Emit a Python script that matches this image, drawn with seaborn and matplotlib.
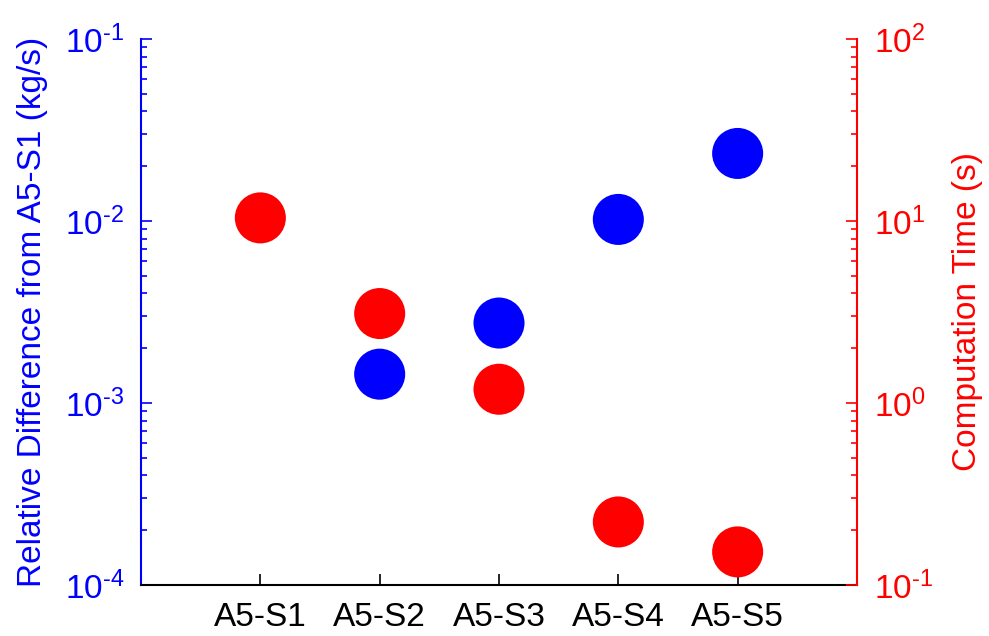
import matplotlib
matplotlib.use('Agg')
import matplotlib.pyplot as plt
import seaborn as sns
import numpy as np
import pandas as pd
from matplotlib.ticker import LogLocator, FuncFormatter

cases = ['A5-S1', 'A5-S2', 'A5-S3', 'A5-S4', 'A5-S5']
rel_diff = [np.nan, 1.44e-3, 2.75e-3, 1.02e-2, 2.35e-2]   # kg/s, S1 is the reference
comp_time = [10.4, 3.1, 1.19, 0.222, 0.152]                # s

df = pd.DataFrame({'pos': np.arange(1, len(cases) + 1), 'diff': rel_diff, 'time': comp_time})

sns.set_style('white')
plt.rcParams['font.family'] = ['Liberation Sans', 'DejaVu Sans']
plt.rcParams['mathtext.fontset'] = 'custom'
plt.rcParams['mathtext.rm'] = 'Liberation Sans'
plt.rcParams['mathtext.it'] = 'Liberation Sans'
plt.rcParams['mathtext.default'] = 'regular'


def pow10(v, pos):
    e = int(round(np.log10(v)))
    return r'$10^{\text{%d}}$' % e


fig = plt.figure(figsize=(9.89, 6.36), dpi=100)
ax = fig.add_axes([0.1426, 0.0802, 0.7239, 0.8585])
ax2 = ax.twinx()

sns.scatterplot(data=df, x='pos', y='diff', ax=ax, s=1350, color='blue', edgecolor='none', zorder=3)
sns.scatterplot(data=df, x='pos', y='time', ax=ax2, s=1350, color='red', edgecolor='none', zorder=3)

ax.set_xlim(0, 6)
ax.set_yscale('log')
ax.set_ylim(1e-4, 1e-1)
ax2.set_yscale('log')
ax2.set_ylim(1e-1, 1e2)

ax.set_xticks(df['pos'])
ax.set_xticklabels(cases)
ax.set_xlabel('')
ax.set_ylabel('Relative Difference from A5-S1 (kg/s)', fontsize=24, color='blue', labelpad=12)
ax2.set_ylabel('Computation Time (s)', fontsize=24, color='red', labelpad=14)
ax2.set_xlabel('')

for a in (ax, ax2):
    a.yaxis.set_major_locator(LogLocator(base=10, numticks=10))
    a.yaxis.set_minor_locator(LogLocator(base=10, subs=np.arange(2, 10), numticks=10))
    a.yaxis.set_major_formatter(FuncFormatter(pow10))
    for side in ['top', 'left', 'right', 'bottom']:
        a.spines[side].set_visible(False)

ax.spines['left'].set_visible(True)
ax.spines['left'].set_color('blue')
ax.spines['left'].set_linewidth(1.5)
ax.spines['bottom'].set_visible(True)
ax.spines['bottom'].set_color('black')
ax.spines['bottom'].set_linewidth(1.5)
ax2.spines['right'].set_visible(True)
ax2.spines['right'].set_color('red')
ax2.spines['right'].set_linewidth(1.5)

ax.tick_params(axis='x', direction='in', length=8, width=1.2, labelsize=24, pad=12, colors='black', bottom=True)
ax.tick_params(axis='y', which='major', direction='in', length=8, width=1.2, labelsize=24, pad=12, colors='blue', left=True)
ax.tick_params(axis='y', which='minor', direction='in', length=4, width=1.2, colors='blue', left=True)
ax2.tick_params(axis='y', which='major', direction='in', length=8, width=1.2, labelsize=24, pad=12, colors='red', right=True)
ax2.tick_params(axis='y', which='minor', direction='in', length=4, width=1.2, colors='red', right=True)

ax.grid(False)
ax2.grid(False)
for a in (ax, ax2):
    leg = a.get_legend()
    if leg is not None:
        leg.remove()

fig.savefig('out.png', dpi=100)
plt.close()
